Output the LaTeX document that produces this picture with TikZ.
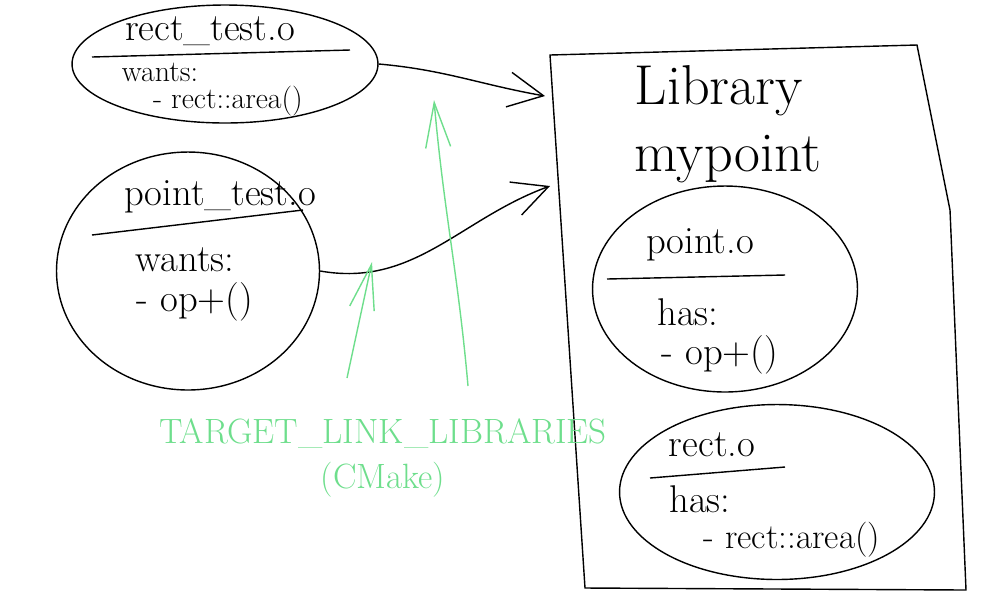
\documentclass[tikz,border=0pt]{standalone}
\usetikzlibrary{shapes.geometric, arrows.meta}
\definecolor{cmgreen}{RGB}{110,222,140}
\tikzset{>={Straight Barb[length=7mm, width=7mm]}}
\tikzset{
  obj/.style={draw, ellipse, inner sep=0pt},
  txt/.style={font=\fontsize{22}{26}\selectfont, inner sep=0pt},
  sml/.style={font=\fontsize{17}{20}\selectfont, inner sep=0pt},
  big/.style={font=\fontsize{32}{38}\selectfont, inner sep=0pt, align=left},
  cmk/.style={text=cmgreen, font=\fontsize{20}{26}\selectfont, inner sep=0pt, align=center},
  up/.style={cmgreen, ->, >={Straight Barb[length=9mm, width=5mm]}}
}

\begin{document}
\begin{tikzpicture}[x=.02cm, y=-.02cm, line width=.8pt]
    \useasboundingbox(0, 0)rectangle(1000, 600);
    \draw(550, 55)--(917, 45)--(950, 210)--(966, 590)--(585, 588)--cycle;
    \node[big](lib)at(728, 124){Library\\mypoint};
    \node[obj, minimum width=6.12cm, minimum height=2.36cm](rectt)at(225, 64){};
    \node[txt](rectttitle)at(210, 31){rect\_test.o};
    \node[sml](rectwants)at(160, 72){wants:};
    \node[sml](rectneeds)at(228, 101){- rect::area()};
    \draw(92, 57)--(350, 50);
    \node[obj, minimum width=5.26cm, minimum height=4.76cm](pointt)at(188, 271){};
    \node[txt](pointttitle)at(220, 197){point\_test.o};
    \node[txt](pointwants)at(185, 260){wants:};
    \node[txt](pointneeds)at(195, 302){- op+()};
    \draw(92, 235)--(303, 210);
    \node[obj, minimum width=5.3cm, minimum height=4.12cm](pointo)at(725, 289){};
    \node[txt](pointotitle)at(700, 245){point.o};
    \node[txt](pointhas)at(688, 312){has:};
    \node[txt](pointgives)at(720, 355){- op+()};
    \draw(607, 279)--(785, 275);
    \node[obj, minimum width=6.3cm, minimum height=3.5cm](recto)at(777, 492){};
    \node[txt](rectotitle)at(712, 445){rect.o};
    \node[txt](recthas)at(700, 499){has:};
    \node[font=\fontsize{20}{24}\selectfont, inner sep=0pt](rectgives)at(792, 540){- rect::area()};
    \draw(650, 478)--(785, 467);
    \coordinate(in1)at(545, 96);
    \coordinate(in2)at(550, 186);
    \draw[->](rectt.east)to[out=-5, in=170](in1);
    \draw[->](pointt.east)to[out=-10, in=200](in2);
    \node[cmk](cmake)at(383, 458){TARGET\_LINK\_LIBRARIES\\(CMake)};
    \coordinate(g1)at(347, 378);
    \coordinate(g2)at(468, 386);
    \draw[up](g1)--(372, 262);
    \draw[up](g2)to[out=95, in=-85](434, 100);
\end{tikzpicture}
\end{document}
